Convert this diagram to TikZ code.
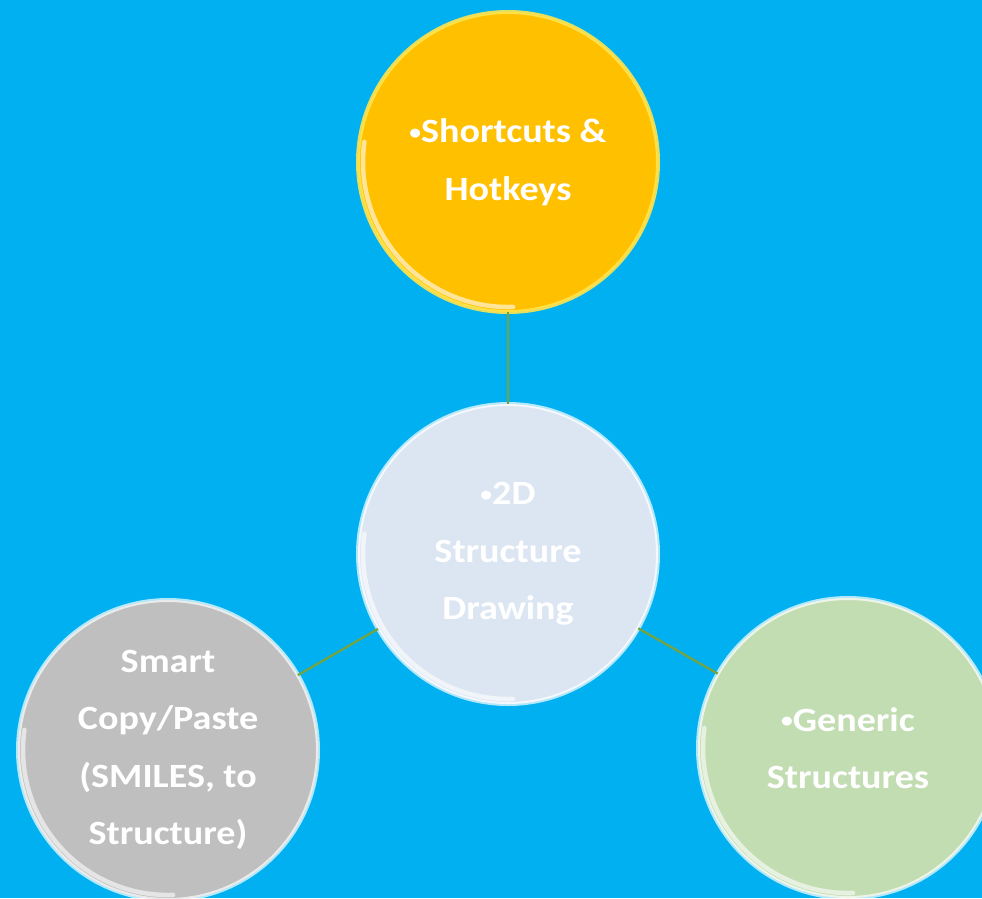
\documentclass[tikz,border=0pt]{standalone}
\usepackage{fontspec}
\setmainfont{Carlito}[FakeStretch=1.12]
\definecolor{bgblue}{HTML}{00B0F0}
\definecolor{amber}{HTML}{FFC000}
\definecolor{amberrim}{HTML}{FFE44D}
\definecolor{paleblue}{HTML}{DCE6F2}
\definecolor{midgray}{HTML}{BFBFBF}
\definecolor{palegreen}{HTML}{C3DDB3}
\definecolor{linkgreen}{HTML}{77A33E}
% small bullet set before a bubble's first line
\newcommand{\dotmark}{\raisebox{3.5pt}{\fontsize{21}{21}\selectfont\textbullet}}
\begin{document}
\begin{tikzpicture}[x=1pt,y=-1pt,
  bubble/.style={circle, minimum size=300pt, inner sep=0pt, outer sep=0pt,
    draw=white, draw opacity=0.7, line width=4pt,
    text=white, align=center,
    font=\fontsize{34}{57.5}\selectfont\bfseries},
  gloss/.style={white, line width=4.5pt, opacity=0.6, line cap=round},
  link/.style={draw=linkgreen, line width=2.2pt}]
  \useasboundingbox (0,0) rectangle (982,898);
  \clip (0,0) rectangle (982,898);
  \fill[bgblue] (0,0) rectangle (982,898);

  % the four bubbles
  \node[bubble, fill=amber, draw=amberrim, draw opacity=0.9] (top) at (508,162)
    {\dotmark Shortcuts \&\\Hotkeys};
  \node[bubble, fill=paleblue] (ctr) at (508,554)
    {\dotmark 2D\\Structure\\Drawing};
  \node[bubble, fill=midgray] (left) at (168,750)
    {Smart\\Copy/Paste\\(SMILES, to\\Structure)};
  \node[bubble, fill=palegreen] (right) at (848,748)
    {\dotmark Generic\\Structures};

  % glossy highlight along the lower-left rim (angles in page orientation)
  \foreach \n in {top,ctr,left,right}
    \draw[gloss] (\n.center) ++(172:145pt) arc[start angle=172, end angle=272, radius=145pt];

  % connectors between the hub and its satellites
  \draw[link] (top) -- (ctr);
  \draw[link] (ctr) -- (left);
  \draw[link] (ctr) -- (right);
\end{tikzpicture}
\end{document}
